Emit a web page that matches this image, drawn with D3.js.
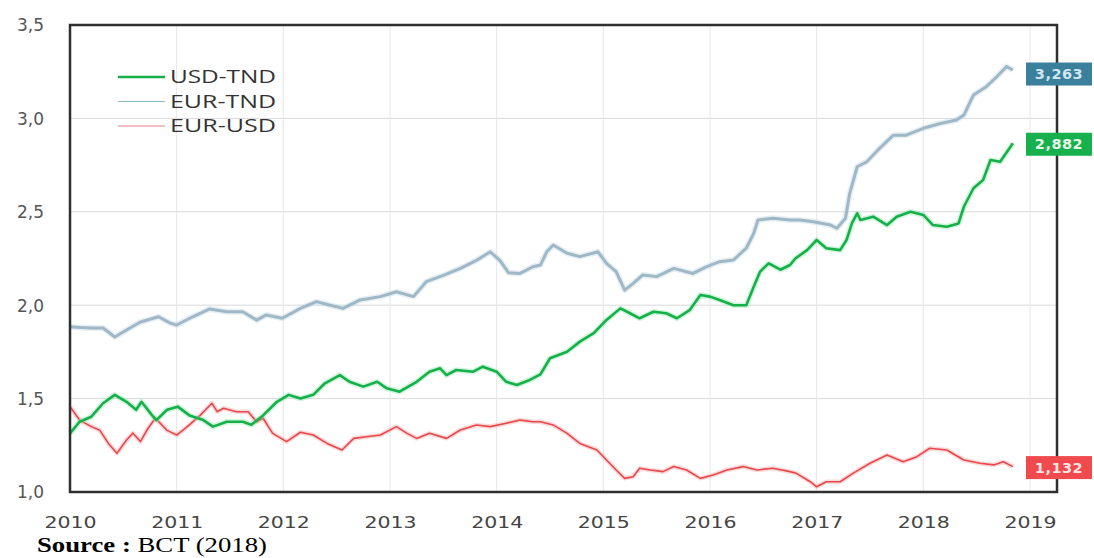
<!DOCTYPE html>
<html><head><meta charset="utf-8">
<script src="https://cdn.jsdelivr.net/npm/d3@7/dist/d3.min.js"></script>
<style>
html,body{margin:0;padding:0;background:#fff;}
svg{display:block;}
</style></head>
<body>
<svg id="chart" width="1094" height="558"></svg>
<script>
// ---- data ----
const seriesNames = ["USD-TND", "EUR-TND", "EUR-USD"];
const yTicks = [1.0, 1.5, 2.0, 2.5, 3.0, 3.5];
const yTickLabels = ["1,0", "1,5", "2,0", "2,5", "3,0", "3,5"];
const xTicks = [2010, 2011, 2012, 2013, 2014, 2015, 2016, 2017, 2018, 2019];
const endLabels = ["2,882", "3,263", "1,132"];

const usdTnd = [[2010.0,1.314],[2010.09,1.376],[2010.2,1.403],[2010.31,1.475],[2010.42,1.52],[2010.53,1.483],[2010.62,1.44],[2010.67,1.483],[2010.77,1.41],[2010.81,1.385],[2010.91,1.44],[2011.01,1.457],[2011.12,1.41],[2011.25,1.385],[2011.34,1.35],[2011.47,1.376],[2011.62,1.376],[2011.7,1.36],[2011.81,1.41],[2011.94,1.483],[2012.05,1.52],[2012.16,1.5],[2012.28,1.52],[2012.39,1.582],[2012.53,1.626],[2012.62,1.59],[2012.75,1.564],[2012.88,1.59],[2012.97,1.555],[2013.09,1.537],[2013.25,1.59],[2013.37,1.644],[2013.47,1.662],[2013.53,1.626],[2013.62,1.653],[2013.78,1.644],[2013.87,1.671],[2014.0,1.644],[2014.09,1.59],[2014.19,1.573],[2014.31,1.6],[2014.41,1.63],[2014.5,1.716],[2014.66,1.751],[2014.78,1.805],[2014.91,1.85],[2015.03,1.921],[2015.16,1.983],[2015.25,1.957],[2015.34,1.93],[2015.47,1.965],[2015.59,1.957],[2015.69,1.93],[2015.81,1.974],[2015.91,2.055],[2016.0,2.046],[2016.09,2.028],[2016.22,2.0],[2016.34,2.0],[2016.41,2.099],[2016.47,2.18],[2016.55,2.224],[2016.66,2.19],[2016.75,2.215],[2016.8,2.25],[2016.91,2.295],[2017.0,2.349],[2017.09,2.305],[2017.22,2.295],[2017.28,2.349],[2017.33,2.438],[2017.38,2.492],[2017.41,2.456],[2017.53,2.474],[2017.66,2.429],[2017.75,2.474],[2017.88,2.5],[2018.0,2.483],[2018.09,2.429],[2018.22,2.42],[2018.33,2.438],[2018.38,2.527],[2018.47,2.626],[2018.56,2.67],[2018.63,2.777],[2018.72,2.768],[2018.84,2.867]];

const eurTnd = [[2010.0,1.885],[2010.1,1.88],[2010.2,1.878],[2010.31,1.878],[2010.42,1.83],[2010.53,1.867],[2010.66,1.91],[2010.83,1.938],[2010.94,1.904],[2011.0,1.894],[2011.15,1.938],[2011.31,1.98],[2011.47,1.965],[2011.62,1.965],[2011.75,1.92],[2011.84,1.948],[2011.99,1.93],[2012.16,1.983],[2012.31,2.019],[2012.44,2.0],[2012.56,1.983],[2012.72,2.028],[2012.91,2.046],[2013.06,2.072],[2013.22,2.046],[2013.34,2.126],[2013.5,2.16],[2013.66,2.197],[2013.81,2.24],[2013.94,2.286],[2014.03,2.24],[2014.11,2.174],[2014.22,2.17],[2014.34,2.206],[2014.41,2.215],[2014.47,2.286],[2014.53,2.322],[2014.66,2.278],[2014.78,2.26],[2014.95,2.286],[2015.03,2.224],[2015.12,2.18],[2015.2,2.081],[2015.28,2.117],[2015.37,2.162],[2015.5,2.153],[2015.66,2.197],[2015.84,2.17],[2015.97,2.206],[2016.09,2.233],[2016.22,2.242],[2016.34,2.305],[2016.41,2.385],[2016.45,2.456],[2016.59,2.465],[2016.75,2.456],[2016.84,2.456],[2016.97,2.447],[2017.13,2.429],[2017.19,2.412],[2017.27,2.465],[2017.31,2.599],[2017.38,2.741],[2017.47,2.768],[2017.59,2.84],[2017.72,2.91],[2017.84,2.91],[2018.0,2.947],[2018.16,2.973],[2018.31,2.991],[2018.38,3.018],[2018.47,3.125],[2018.59,3.17],[2018.69,3.224],[2018.78,3.277],[2018.84,3.259]];

const eurUsd = [[2010.0,1.457],[2010.09,1.385],[2010.2,1.35],[2010.28,1.33],[2010.36,1.26],[2010.44,1.207],[2010.53,1.278],[2010.59,1.315],[2010.66,1.27],[2010.73,1.34],[2010.8,1.395],[2010.91,1.33],[2011.0,1.305],[2011.1,1.35],[2011.22,1.41],[2011.33,1.475],[2011.38,1.43],[2011.44,1.448],[2011.56,1.43],[2011.67,1.43],[2011.75,1.376],[2011.81,1.395],[2011.9,1.314],[2012.03,1.27],[2012.16,1.32],[2012.28,1.305],[2012.41,1.26],[2012.55,1.225],[2012.66,1.287],[2012.78,1.296],[2012.91,1.305],[2013.06,1.35],[2013.16,1.314],[2013.25,1.287],[2013.37,1.314],[2013.53,1.287],[2013.66,1.332],[2013.81,1.359],[2013.94,1.35],[2014.09,1.368],[2014.22,1.385],[2014.34,1.376],[2014.41,1.376],[2014.53,1.359],[2014.66,1.314],[2014.78,1.26],[2014.94,1.225],[2015.03,1.171],[2015.12,1.118],[2015.2,1.073],[2015.28,1.082],[2015.34,1.127],[2015.44,1.118],[2015.56,1.109],[2015.66,1.136],[2015.78,1.118],[2015.91,1.073],[2016.03,1.091],[2016.16,1.118],[2016.31,1.136],[2016.44,1.118],[2016.59,1.127],[2016.75,1.109],[2016.81,1.1],[2016.94,1.055],[2017.0,1.028],[2017.09,1.055],[2017.22,1.055],[2017.34,1.1],[2017.5,1.154],[2017.66,1.198],[2017.81,1.162],[2017.94,1.189],[2018.06,1.234],[2018.22,1.225],[2018.38,1.171],[2018.53,1.154],[2018.66,1.145],[2018.75,1.162],[2018.84,1.136]];

// ---- layout ----
const svg = d3.select("#chart");
const plotLeft = 70, plotTop = 25, plotBottom = 492, frameRight = 1057;
const x = d3.scaleLinear().domain([2010, 2019]).range([plotLeft, 1030]);
const y = d3.scaleLinear().domain([1.0, 3.5]).range([plotBottom, plotTop]);

// gridlines
svg.append("g").selectAll("line").data(yTicks.slice(1, -1)).join("line")
  .attr("x1", plotLeft).attr("x2", frameRight)
  .attr("y1", d => y(d)).attr("y2", d => y(d))
  .attr("stroke", "#d9d9d9").attr("stroke-width", 1);
svg.append("g").selectAll("line").data(xTicks.slice(1)).join("line")
  .attr("x1", d => x(d)).attr("x2", d => x(d))
  .attr("y1", plotTop).attr("y2", plotBottom)
  .attr("stroke", "#e6e6e6").attr("stroke-width", 1);

// series
const line = d3.line().x(d => x(d[0])).y(d => y(d[1]));
const styles = [
  {data: eurUsd, color: "#e8474c", w: 1.6, glow: "#f5a0a0"},
  {data: eurTnd, color: "#9eb8c8", w: 3, glow: "#c4d6e0"},
  {data: usdTnd, color: "#14b04a", w: 2.6, glow: "#8fe0a8"}
];
styles.forEach(s => {
  svg.append("path").datum(s.data).attr("d", line)
    .attr("fill", "none").attr("stroke", s.glow).attr("stroke-width", s.w + 3)
    .attr("stroke-opacity", 0.4).attr("stroke-linejoin", "round");
  svg.append("path").datum(s.data).attr("d", line)
    .attr("fill", "none").attr("stroke", s.color).attr("stroke-width", s.w)
    .attr("stroke-linejoin", "round");
});

// frame
svg.append("rect").attr("x", plotLeft).attr("y", plotTop)
  .attr("width", frameRight - plotLeft).attr("height", plotBottom - plotTop)
  .attr("fill", "none").attr("stroke", "#2f2f2f").attr("stroke-width", 2.5);

// axes (labels only)
const yAxis = d3.axisLeft(y).tickValues(yTicks).tickFormat((d, i) => yTickLabels[i]).tickSize(0).tickPadding(0);
const gy = svg.append("g").attr("transform", "translate(44,0)").call(yAxis);
gy.select(".domain").remove();
gy.selectAll("text").attr("font-family", "DejaVu Sans, sans-serif").attr("font-size", 17)
  .attr("fill", "#555").attr("x", 0).attr("dy", "0.35em");

const xAxis = d3.axisBottom(x).tickValues(xTicks).tickFormat(d3.format("d")).tickSize(0).tickPadding(0);
const gx = svg.append("g").attr("transform", "translate(0,528)").call(xAxis);
gx.select(".domain").remove();
gx.selectAll("text").attr("font-family", "DejaVu Sans, sans-serif").attr("font-size", 16)
  .attr("fill", "#444").attr("y", 0).attr("dy", 0)
  .attr("transform", "scale(1.28,1)");

// legend
const legend = svg.append("g");
const legendColors = ["#14b04a", "#8fbcc4", "#e8808a"];
const legendWidths = [2.6, 1.2, 1.2];
seriesNames.forEach((n, i) => {
  const ly = 77 + i * 24.5;
  legend.append("line").attr("x1", 118).attr("x2", 165).attr("y1", ly).attr("y2", ly)
    .attr("stroke", legendColors[i]).attr("stroke-width", legendWidths[i]);
  legend.append("text").attr("x", 170).attr("y", ly + 6)
    .attr("font-family", "Open Sans, sans-serif").attr("font-size", 18).attr("fill", "#333")
    .attr("textLength", 106).attr("lengthAdjust", "spacingAndGlyphs")
    .text(n);
});

// end labels
const endSeries = [usdTnd, eurTnd, eurUsd];
const endColors = ["#16b04c", "#3a7f9c", "#f04a4e"];
const endText = ["#e6f7ea", "#cfe7f2", "#fde4e4"];
const endOffset = [1, 4, 1];
endSeries.forEach((s, i) => {
  const last = s[s.length - 1];
  const cy = y(last[1]) + endOffset[i];
  svg.append("rect").attr("x", 1026).attr("y", cy - 11.5).attr("width", 66).attr("height", 23)
    .attr("fill", endColors[i]);
  svg.append("text").attr("x", 1059).attr("y", cy + 5).attr("text-anchor", "middle")
    .attr("font-family", "DejaVu Sans, sans-serif").attr("font-weight", "bold").attr("font-size", 14.5)
    .attr("fill", endText[i]).attr("letter-spacing", 0.5).text(endLabels[i]);
});

// source
const src = svg.append("text").attr("x", 37).attr("y", 552)
  .attr("font-family", "Liberation Serif, Times New Roman, serif").attr("font-size", 22).attr("fill", "#000")
  .attr("textLength", 230).attr("lengthAdjust", "spacingAndGlyphs");
src.append("tspan").attr("font-weight", "bold").text("Source : ");
src.append("tspan").text("BCT (2018)");
</script>
</body></html>
